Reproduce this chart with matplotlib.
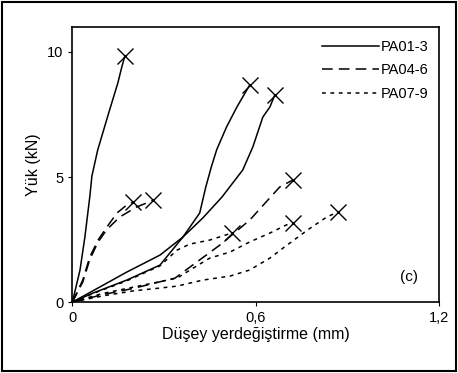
import matplotlib
matplotlib.use("Agg")
import matplotlib.pyplot as plt
from matplotlib.patches import Rectangle

plt.rcParams["font.family"] = ["Liberation Sans", "DejaVu Sans"]

# PA01-3 (duz cizgi)
pa01_x = [0, 0.025, 0.041, 0.057, 0.064, 0.083, 0.12, 0.149, 0.162, 0.172]
pa01_y = [0, 1.28, 2.6, 4.2, 5.04, 6.08, 7.6, 8.76, 9.4, 9.84]
pa02_x = [0, 0.067, 0.178, 0.287, 0.362, 0.417, 0.437, 0.455, 0.473, 0.505, 0.539, 0.581]
pa02_y = [0, 0.36, 0.88, 1.48, 2.6, 3.56, 4.6, 5.4, 6.1, 7.0, 7.8, 8.68]
pa03_x = [0, 0.067, 0.178, 0.287, 0.362, 0.427, 0.49, 0.558, 0.591, 0.624, 0.647, 0.663]
pa03_y = [0, 0.45, 1.2, 1.88, 2.6, 3.36, 4.2, 5.28, 6.2, 7.4, 7.8, 8.28]

# PA04-6 (kesikli)
pa04_x = [0, 0.034, 0.057, 0.084, 0.113, 0.146, 0.178, 0.2]
pa04_y = [0, 0.88, 1.8, 2.48, 3.0, 3.56, 3.88, 4.0]
pa05_x = [0, 0.034, 0.057, 0.084, 0.113, 0.155, 0.21, 0.243, 0.265]
pa05_y = [0, 0.8, 1.7, 2.4, 2.9, 3.4, 3.8, 3.96, 4.08]
pa06_x = [0, 0.1, 0.2, 0.336, 0.385, 0.483, 0.581, 0.679, 0.722]
pa06_y = [0, 0.3, 0.55, 0.96, 1.4, 2.28, 3.28, 4.6, 4.88]

# PA07-9 (noktali)
pa07_x = [0, 0.067, 0.178, 0.287, 0.343, 0.385, 0.45, 0.522]
pa07_y = [0, 0.34, 0.85, 1.45, 2.08, 2.32, 2.48, 2.76]
pa08_x = [0, 0.1, 0.2, 0.343, 0.385, 0.45, 0.516, 0.58, 0.647, 0.70, 0.722]
pa08_y = [0, 0.35, 0.6, 0.96, 1.28, 1.76, 2.0, 2.4, 2.76, 3.08, 3.16]
pa09_x = [0, 0.1, 0.2, 0.3, 0.343, 0.427, 0.516, 0.58, 0.647, 0.69, 0.77, 0.833, 0.87]
pa09_y = [0, 0.25, 0.45, 0.58, 0.64, 0.88, 1.04, 1.28, 1.76, 2.16, 2.88, 3.4, 3.6]

gruplar = [
    ("PA01-3", "-", [(pa01_x, pa01_y), (pa02_x, pa02_y), (pa03_x, pa03_y)]),
    ("PA04-6", (0, (7, 4)), [(pa04_x, pa04_y), (pa05_x, pa05_y), (pa06_x, pa06_y)]),
    ("PA07-9", (0, (2.5, 3)), [(pa07_x, pa07_y), (pa08_x, pa08_y), (pa09_x, pa09_y)]),
]

fig = plt.figure(figsize=(4.58, 3.73), dpi=100)
ax = fig.add_axes([0.158, 0.19, 0.80, 0.738])

for nome, estilo, curvas in gruplar:
    for k, (xs, ys) in enumerate(curvas):
        ax.plot(xs, ys, color="black", linestyle=estilo, linewidth=1.1,
                label=nome if k == 0 else None)
        ax.plot(xs[-1], ys[-1], marker="x", markersize=11, mew=1.0,
                color="black", linestyle="none")

ax.set_xlim(0, 1.2)
ax.set_ylim(0, 11)
ax.set_xticks([0, 0.6, 1.2], ["0", "0,6", "1,2"])
ax.set_yticks([0, 5, 10], ["0", "5", "10"])
ax.tick_params(direction="out", length=3, labelsize=10.5, width=0.8)
for s in ax.spines.values():
    s.set_linewidth(1.2)
ax.set_xlabel("Düşey yerdeğiştirme (mm)", fontsize=11.5, labelpad=1)
ax.set_ylabel("Yük (kN)", fontsize=11.5, labelpad=4)

ax.text(0.92, 0.09, "(c)", transform=ax.transAxes, fontsize=11, ha="center", va="center")

ax.legend(loc="upper right", frameon=False, fontsize=10.5, handlelength=3.9,
          handletextpad=0.15, labelspacing=0.65, borderaxespad=0.3,
          bbox_to_anchor=(1.0, 0.99))

fig.patches.append(Rectangle((0.004, 0.005), 0.992, 0.99, transform=fig.transFigure,
                             fill=False, edgecolor="black", linewidth=1.5))

fig.savefig("out.png", dpi=100)
